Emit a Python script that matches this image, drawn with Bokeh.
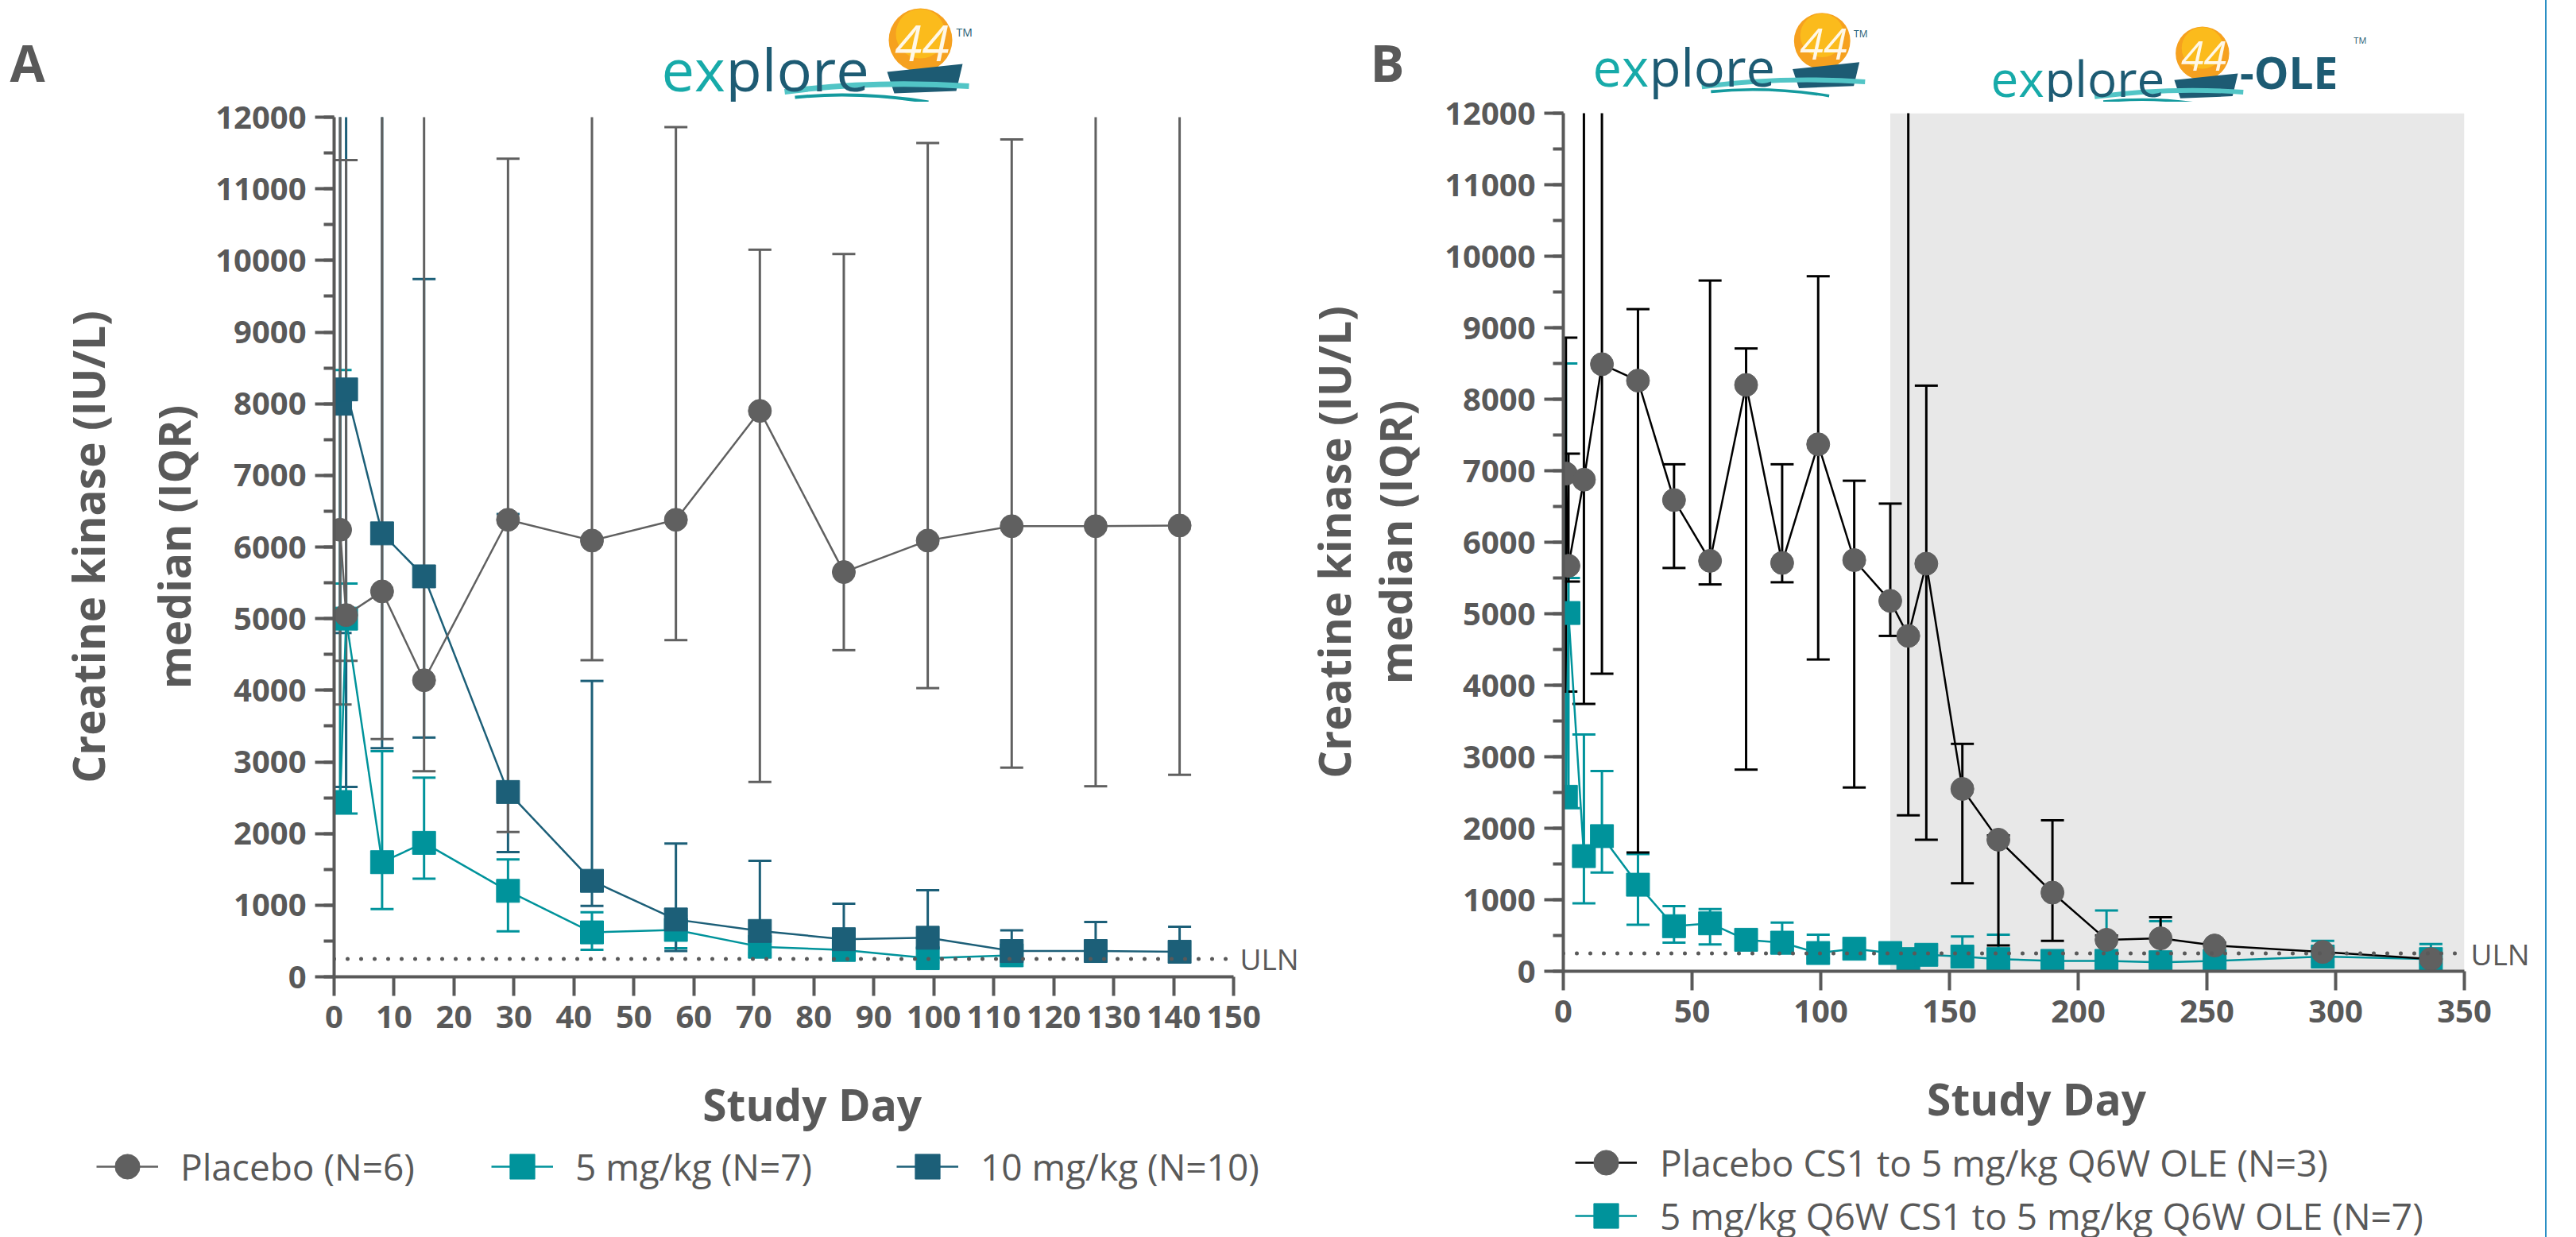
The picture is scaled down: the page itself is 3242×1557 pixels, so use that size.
from bokeh.plotting import figure
from bokeh.models import (Range1d, LinearAxis, SingleIntervalTicker, FixedTicker, Span,
                          Legend, LegendItem, ColumnDataSource, Div)
from bokeh.layouts import row, column
from bokeh.embed import file_html
from bokeh.resources import INLINE
from bokeh.core.properties import value

# ---------------- data ----------------
ULN = 250
OLE_START = 127
OLE_END = 350

# Panel A
days_A = [1, 2, 8, 15, 29, 43, 57, 71, 85, 99, 113, 127, 141]
pbo_A_med = [6240, 5050, 5380, 4140, 6380, 6090, 6380, 7900, 5650, 6090, 6290, 6290, 6300]
pbo_A_q1 = [3800, 4410, 3320, 2870, 2020, 4420, 4700, 2720, 4560, 4030, 2920, 2660, 2820]
pbo_A_q3 = [15000, 11400, 15000, 15000, 11420, 15000, 11860, 10150, 10090, 11640, 11690, 15000, 15000]

days_A10 = [1, 2, 8, 15, 29, 43, 57, 71, 85, 99, 113, 127, 141]
d10_A_med = [8000, 8200, 6190, 5590, 2580, 1340, 800, 640, 525, 545, 360, 360, 350]
d10_A_q1 = [4800, 2650, 3190, 3340, 1740, 990, 360, 330, 260, 250, 280, 300, 290]
d10_A_q3 = [15000, 15000, 15000, 9740, 6460, 4130, 1860, 1620, 1020, 1210, 650, 765, 700]

days_A5 = [1, 2, 8, 15, 29, 43, 57, 71, 85, 99, 113]
d5_A_med = [2440, 5000, 1600, 1870, 1200, 620, 655, 420, 375, 260, 300]
d5_A_q1 = [2300, 2280, 945, 1370, 636, 377, 400, 300, 250, 200, 220]
d5_A_q3 = [8470, 5490, 3150, 2780, 1640, 900, 850, 560, 500, 420, 400]

# Panel B
days_B = [1, 2, 8, 15, 29, 43, 57, 71, 85, 99, 113, 127, 134, 141, 155, 169, 190, 211, 232, 253, 295, 337]
pbo_B_med = [6960, 5670, 6875, 8490, 8260, 6590, 5740, 8200, 5710, 7370, 5750, 5180, 4690, 5700,
             2550, 1840, 1100, 440, 460, 360, 270, 170]
pbo_B_q1 = [3910, 5450, 3740, 4160, 1660, 5640, 5410, 2820, 5440, 4360, 2570, 4690, 2180, 1840,
            1230, 360, 425, 230, 270, 170, 200, 120]
pbo_B_q3 = [8860, 7240, 15000, 15000, 9260, 7090, 9660, 8710, 7090, 9720, 6860, 6540, 15000, 8190,
            3180, 1900, 2110, 500, 756, 400, 320, 200]

d5_B_med = [2440, 5010, 1610, 1890, 1210, 630, 670, 440, 400, 255, 315, 255, 170, 230,
            205, 170, 145, 145, 125, 145, 205, 170]
d5_B_q1 = [2300, 2280, 950, 1380, 650, 400, 375, 330, 250, 180, 220, 180, 100, 150,
           120, 100, 90, 90, 80, 100, 130, 100]
d5_B_q3 = [8500, 5500, 3310, 2800, 1640, 910, 870, 520, 680, 510, 400, 330, 260, 300,
           485, 510, 220, 850, 700, 250, 425, 380]

labels_A = ["Placebo (N=6)", "5 mg/kg (N=7)", "10 mg/kg (N=10)"]
labels_B = ["Placebo CS1 to 5 mg/kg Q6W OLE (N=3)", "5 mg/kg Q6W CS1 to 5 mg/kg Q6W OLE (N=7)"]

# ---------------- styles ----------------
FONT = "Open Sans"
AX = "#595959"
GRAY = "#606060"
TEAL = "#00939b"
DARK = "#1c5f78"
BLACK = "#000000"
LOGO_DARK = "#1d5b73"
LOGO_TEAL = "#17aaa9"
NB = "\u00a0"

SH = 128   # logo strip height
LH = 114   # legend strip height
WA = 1636  # width of column A
WB = 1564  # width of column B


def main_fig(left, right, top, bottom, fw, fh, xmax, xint, so1, so2, xpad):
    p = figure(frame_width=fw, frame_height=fh, x_range=Range1d(0, xmax), y_range=Range1d(0, 12000),
               output_backend="svg", toolbar_location=None, frame_align=False,
               min_border_left=left, min_border_right=right, min_border_top=top, min_border_bottom=bottom)
    p.xgrid.visible = False
    p.ygrid.visible = False
    p.outline_line_color = None
    p.xaxis.ticker = SingleIntervalTicker(interval=xint, num_minor_ticks=0)
    p.yaxis.ticker = SingleIntervalTicker(interval=1000, num_minor_ticks=2)
    for ax in (p.xaxis[0], p.yaxis[0]):
        ax.axis_line_width = 4
        ax.axis_line_color = AX
        ax.major_tick_line_width = 4
        ax.major_tick_line_color = AX
        ax.major_tick_out = 24
        ax.major_tick_in = 0
        ax.minor_tick_line_width = 4
        ax.minor_tick_line_color = AX
        ax.minor_tick_out = 13
        ax.minor_tick_in = 0
        ax.major_label_text_font = FONT
        ax.major_label_text_font_style = "bold"
        ax.major_label_text_font_size = "40px"
        ax.major_label_text_color = AX
        ax.axis_label_text_font = FONT
        ax.axis_label_text_font_style = "bold"
        ax.axis_label_text_font_size = "55px"
        ax.axis_label_text_color = AX
    p.xaxis.minor_tick_line_color = None
    p.xaxis.major_label_standoff = 12
    p.xaxis.axis_label = NB * xpad + "Study Day"
    p.xaxis.axis_label_standoff = 55
    p.yaxis.major_label_standoff = 11
    p.yaxis.axis_label = "median (IQR)"
    p.yaxis.axis_label_standoff = so1
    ax2 = LinearAxis(axis_label="Creatine kinase (IU/L)", ticker=FixedTicker(ticks=[]),
                     axis_line_color=None, major_tick_line_color=None, minor_tick_line_color=None,
                     major_tick_out=0, minor_tick_out=0, major_tick_in=0, minor_tick_in=0,
                     major_label_standoff=0, axis_label_standoff=so2,
                     axis_label_text_font=FONT, axis_label_text_font_style="bold",
                     axis_label_text_font_size="55px", axis_label_text_color=AX)
    p.add_layout(ax2, "left")
    ax_uln = LinearAxis(ticker=FixedTicker(ticks=[ULN]), major_label_overrides={ULN: "ULN"},
                        axis_line_color=None, major_tick_line_color=None, minor_tick_line_color=None,
                        major_tick_out=0, major_tick_in=0, minor_tick_out=0, minor_tick_in=0,
                        major_label_standoff=8, major_label_text_font=FONT,
                        major_label_text_font_size="37px", major_label_text_color=AX)
    p.add_layout(ax_uln, "right")
    p.add_layout(Span(location=ULN, dimension="width", line_color=AX, line_width=5,
                      line_dash="0 17", line_cap="round"))
    return p


def errbars(p, days, q1, q3, color):
    src = ColumnDataSource(dict(day=days, q1=q1, q3=q3))
    p.segment(x0="day", y0="q1", x1="day", y1="q3", source=src, line_color=color, line_width=3)
    p.scatter(x="day", y="q1", source=src, marker="dash", size=29, line_color=color, line_width=3)
    p.scatter(x="day", y="q3", source=src, marker="dash", size=29, line_color=color, line_width=3)


def medline(p, days, med, mcolor, lcolor, marker):
    src = ColumnDataSource(dict(day=days, med=med))
    p.line(x="day", y="med", source=src, line_color=lcolor, line_width=2.5)
    p.scatter(x="day", y="med", source=src, marker=marker, size=29, fill_color=mcolor,
              line_color=mcolor)


def plain(width, height, x0, x1):
    s = figure(width=width, height=height, x_range=Range1d(x0, x1), y_range=Range1d(height, 0),
               output_backend="svg", toolbar_location=None, x_axis_type=None, y_axis_type=None,
               min_border=0, frame_align=False)
    s.outline_line_color = None
    return s


def legend_entry(s, label, mcolor, lcolor, marker, left, vy, standoff):
    # legend key only (no data point is drawn: NaN coordinates)
    key = ColumnDataSource(dict(x=[float("nan")], y=[float("nan")]))
    l = s.line(x="x", y="y", source=key, line_color=lcolor, line_width=2.5)
    m = s.scatter(x="x", y="y", source=key, marker=marker, size=29, fill_color=mcolor,
                  line_color=mcolor)
    lg = Legend(items=[LegendItem(label=label, renderers=[l, m])], location=(left, vy),
                glyph_width=78, glyph_height=78, label_height=78, label_standoff=standoff,
                padding=0, margin=0, spacing=0, border_line_color=None, background_fill_alpha=0,
                label_text_font=FONT, label_text_font_size="46px", label_text_color=AX)
    s.add_layout(lg)


# ---------------- Panel A ----------------
pA = main_fig(420, WA - 420 - 1132, 147 - SH, (1557 - LH) - 1229, 1132, 1082, 150, 10, 12, 31, 5)
errbars(pA, days_A5, d5_A_q1, d5_A_q3, TEAL)
errbars(pA, days_A10, d10_A_q1, d10_A_q3, DARK)
errbars(pA, days_A, pbo_A_q1, pbo_A_q3, GRAY)
medline(pA, days_A5, d5_A_med, TEAL, TEAL, "square")
medline(pA, days_A10, d10_A_med, DARK, DARK, "square")
medline(pA, days_A, pbo_A_med, GRAY, GRAY, "circle")

lA = plain(WA, LH, 0, WA)
legend_entry(lA, labels_A[0], GRAY, GRAY, "circle", 121, LH - 64, 28)
legend_entry(lA, labels_A[1], TEAL, TEAL, "square", 618, LH - 64, 28)
legend_entry(lA, labels_A[2], DARK, DARK, "square", 1128, LH - 64, 28)

# ---------------- Panel B ----------------
pB = main_fig(330, WB - 330 - 1134, 142 - SH, (1557 - LH) - 1222, 1134, 1080, 350, 50, 22, 0, 4)
pB.quad(left=[OLE_START], right=[OLE_END], bottom=[0], top=[12000], fill_color="#e8e8e8",
        line_color=None)
errbars(pB, days_B, d5_B_q1, d5_B_q3, TEAL)
errbars(pB, days_B, pbo_B_q1, pbo_B_q3, BLACK)
medline(pB, days_B, d5_B_med, TEAL, TEAL, "square")
medline(pB, days_B, pbo_B_med, GRAY, BLACK, "circle")

lB = plain(WB, LH, WA, WA + WB)
legend_entry(lB, labels_B[0], GRAY, BLACK, "circle", 2020 - 39 - WA, LH - (1463 - (1557 - LH)) - 39, 29)
legend_entry(lB, labels_B[1], TEAL, TEAL, "square", 2020 - 39 - WA, LH - (1530 - (1557 - LH)) - 39, 29)


# ---------------- logo strips (coordinates = page pixels) ----------------
def logo(s, x0, yb, f, ft, ole=False):
    k = f / 70.0
    sx = x0 + (316 if ole else 326) * k
    sy = yb - 36 * k
    s.circle(x=[sx], y=[sy], radius=40 * k, fill_color="#f6a11f", line_color=None)
    s.circle(x=[sx], y=[sy - 8 * k], radius=31 * k, fill_color="#fbbf1c", line_color=None, fill_alpha=0.85)
    s.text(x=[sx + 2 * k], y=[sy + 4 * k], text=["44"], text_font=value(FONT), text_font_style="italic",
           text_font_size=f"{int(62 * k)}px", text_color="white", text_alpha=0.9,
           text_align="center", text_baseline="middle")
    bx = sx - 42 * k
    s.patch(x=[bx, bx + 95 * k, bx + 87 * k, bx + 9 * k],
            y=[yb + 4 * k, yb - 6 * k, yb + 28 * k, yb + 31 * k], fill_color=LOGO_DARK, line_color=None)
    s.quadratic(x0=[x0 + 155 * k], y0=[yb + 29 * k], x1=[sx + 61 * k], y1=[yb + 22 * k],
                cx=[x0 + 268 * k], cy=[yb + 14 * k], line_color="#52c5c6", line_width=7 * k)
    s.quadratic(x0=[x0 + 168 * k], y0=[yb + 36 * k], x1=[sx + 10 * k], y1=[yb + 42 * k],
                cx=[x0 + 248 * k], cy=[yb + 28 * k], line_color="#149a9e", line_width=4 * k)
    s.text(x=[x0], y=[yb], text=["ex"], text_font=value(FONT), text_font_size=f"{ft}px",
           text_color=LOGO_TEAL, text_baseline="alphabetic")
    s.text(x=[x0 + 1.095 * ft], y=[yb], text=["plore"], text_font=value(FONT), text_font_size=f"{ft}px",
           text_color=LOGO_DARK, text_baseline="alphabetic")
    if ole:
        s.text(x=[x0 + 372 * k], y=[yb - 8 * k], text=["-OLE"], text_font=value(FONT),
               text_font_style="bold", text_font_size=f"{int(66 * k)}px", text_color=LOGO_DARK,
               text_baseline="alphabetic")
        s.text(x=[x0 + 542 * k], y=[yb - 56 * k], text=["TM"], text_font=value(FONT),
               text_font_size=f"{int(14 * k)}px", text_color=LOGO_DARK, text_baseline="alphabetic")
    else:
        s.text(x=[sx + 45 * k], y=[yb - 46 * k], text=["TM"], text_font=value(FONT),
               text_font_size=f"{int(14 * k)}px", text_color=LOGO_DARK, text_baseline="alphabetic")


sA = plain(WA, SH, 0, WA)
sA.text(x=[12], y=[78], text=["A"], text_font=value(FONT), text_font_style="bold",
        text_font_size="64px", text_color=AX, text_baseline="alphabetic")
logo(sA, 832, 86, 70, 74)

sB = plain(WB, SH, WA, WA + WB)
sB.text(x=[1723], y=[78], text=["B"], text_font=value(FONT), text_font_style="bold",
        text_font_size="64px", text_color=AX, text_baseline="alphabetic")
logo(sB, 2003, 83, 62, 65)
logo(sB, 2504, 97, 59, 62, ole=True)

blue = Div(text='<div style="width:2px;height:1557px;background:#2a8fc4;margin-left:2px"></div>',
           width=10, height=1557, margin=0)

layout = row(column(sA, pA, lA), column(sB, pB, lB), blue)
open("out.html", "w").write(file_html(layout, INLINE))
